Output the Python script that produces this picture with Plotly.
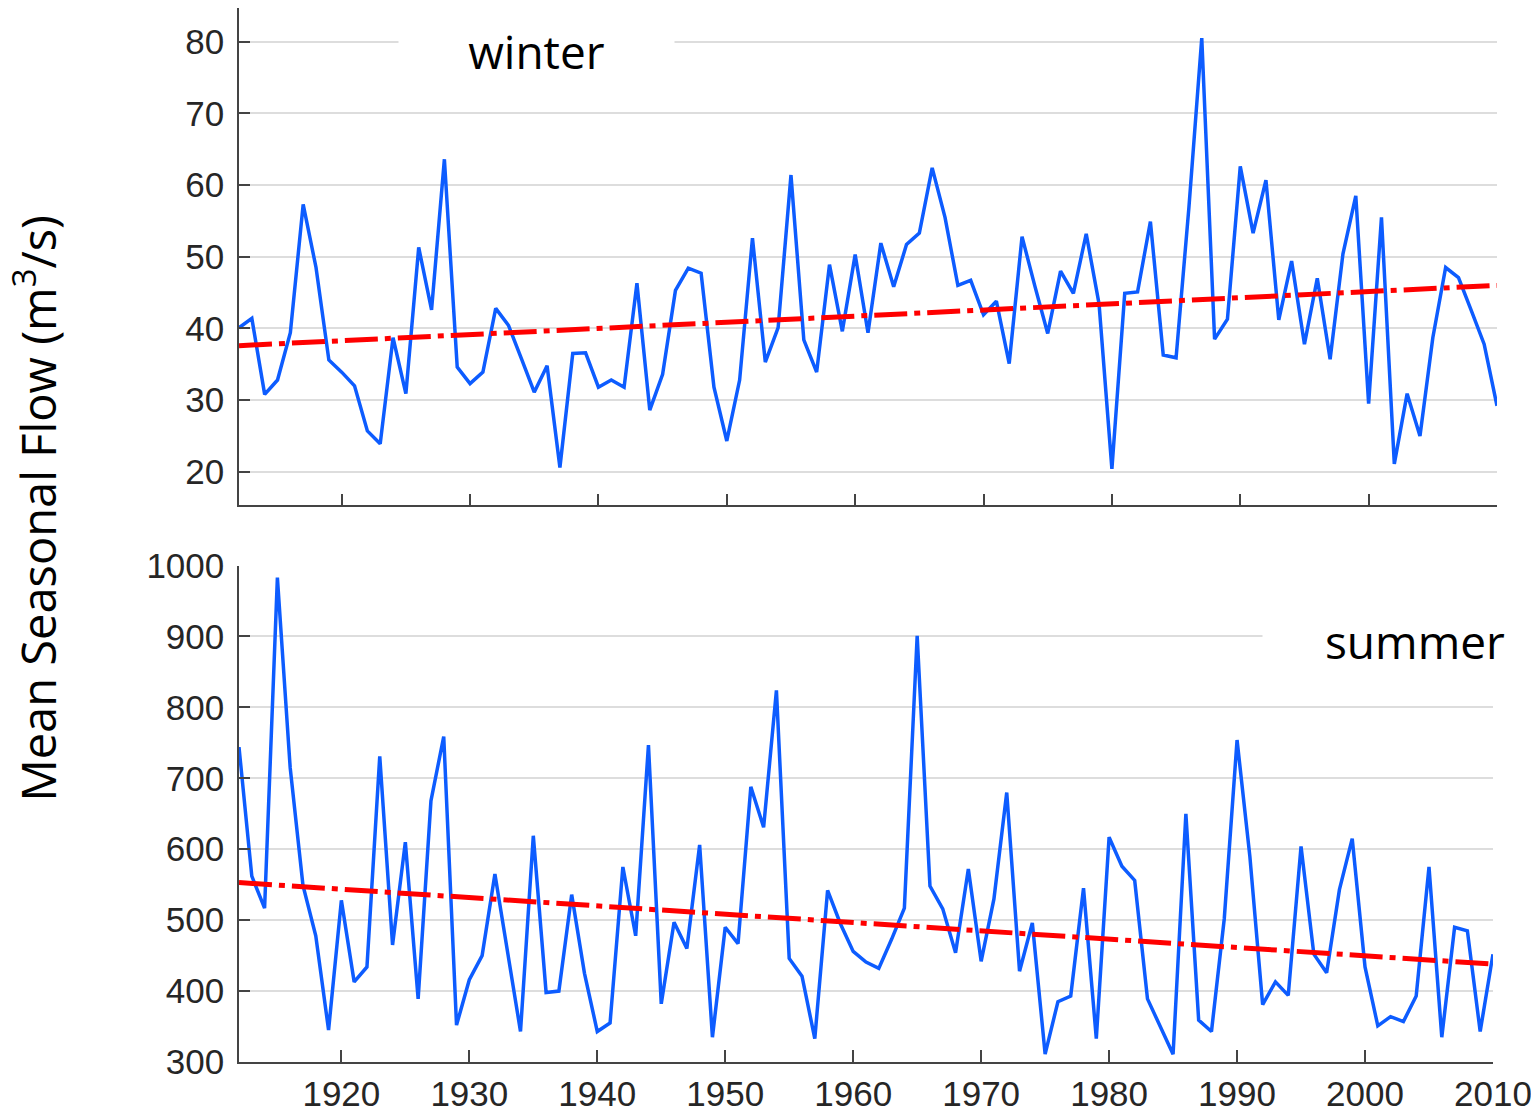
import plotly.graph_objects as go

# years shared by both series
years = list(range(1912, 2011))

# mean winter flow (m3/s)
winter_flow = [
    40.1, 41.4, 30.8, 32.8, 39.4, 57.3, 48.5, 35.6, 33.9, 32.0,
    25.7, 23.9, 38.7, 30.9, 51.3, 42.6, 63.6, 34.6, 32.3, 33.9,
    42.8, 40.4, 35.8, 31.1, 34.8, 20.6, 36.5, 36.6, 31.8, 32.8,
    31.8, 46.3, 28.6, 33.6, 45.3, 48.4, 47.7, 31.8, 24.3, 32.8,
    52.6, 35.3, 40.1, 61.4, 38.4, 33.9, 48.9, 39.6, 50.3, 39.4,
    51.9, 45.8, 51.7, 53.3, 62.4, 55.5, 46.0, 46.7, 41.9, 43.8,
    35.1, 52.8, 45.9, 39.3, 48.0, 44.9, 53.2, 43.4, 20.4, 44.9,
    45.1, 54.9, 36.3, 35.9, 56.9, 80.5, 38.5, 41.3, 62.6, 53.3,
    60.7, 41.2, 49.4, 37.8, 47.0, 35.7, 50.4, 58.5, 29.5, 55.5,
    21.1, 30.9, 25.0, 38.7, 48.5, 47.1, 42.5, 37.8, 29.2,
]

# mean summer flow (m3/s)
summer_flow = [
    744, 562, 517, 983, 715, 549, 478, 345, 528, 413,
    434, 731, 465, 610, 389, 668, 759, 352, 416, 450,
    565, 450, 343, 619, 398, 400, 536, 425, 343, 355,
    575, 478, 747, 382, 497, 460, 606, 335, 490, 467,
    688, 631, 824, 446, 421, 333, 542, 495, 456, 441,
    432, 473, 517, 901, 548, 516, 454, 572, 442, 530,
    680, 428, 496, 311, 385, 393, 545, 333, 617, 576,
    556, 389, 351, 311, 650, 359, 343, 502, 754, 590,
    381, 413, 394, 604, 452, 426, 543, 615, 434, 351,
    364, 357, 393, 575, 335, 490, 485, 343, 452,
]

# linear trend end points
trend_years = [1912, 2010]
winter_trend = [37.6, 46.0]
summer_trend = [553, 438]

tick_years = [1920, 1930, 1940, 1950, 1960, 1970, 1980, 1990, 2000, 2010]

blue = '#0d5cff'
red = '#ff0000'
axis_col = '#444444'
grid_col = '#dddddd'
tick_font = dict(family='Liberation Sans, Arial', size=35, color='#262626')
text_font = dict(family='Open Sans', size=46, color='black')

fig = go.Figure()

fig.add_trace(go.Scatter(x=years, y=winter_flow, mode='lines',
                         line=dict(color=blue, width=3.5), xaxis='x', yaxis='y'))
fig.add_trace(go.Scatter(x=trend_years, y=winter_trend, mode='lines',
                         line=dict(color=red, width=5, dash='33px,7px,6px,7px'),
                         xaxis='x', yaxis='y'))
fig.add_trace(go.Scatter(x=years, y=summer_flow, mode='lines',
                         line=dict(color=blue, width=3.5), xaxis='x2', yaxis='y2'))
fig.add_trace(go.Scatter(x=trend_years, y=summer_trend, mode='lines',
                         line=dict(color=red, width=5, dash='33px,7px,6px,7px'),
                         xaxis='x2', yaxis='y2'))

common_x = dict(range=[1912, 2010], tickvals=tick_years, ticks='inside', ticklen=12,
                tickwidth=1.5, tickcolor=axis_col, showline=True, linecolor=axis_col,
                linewidth=1.5, showgrid=False, zeroline=False, automargin=False)
common_y = dict(ticks='inside', ticklen=11, tickwidth=1.5, tickcolor=axis_col,
                showline=True, linecolor=axis_col, linewidth=1.5, showgrid=True,
                gridcolor=grid_col, gridwidth=1.5, zeroline=False, tickfont=tick_font,
                ticklabelstandoff=6, automargin=False)

# page body adds an 8px margin, so the figure is 16px smaller than the window
fig.update_layout(
    width=1531, height=1109,
    margin=dict(l=231, r=42, t=0, b=55, autoexpand=False),
    plot_bgcolor='white', paper_bgcolor='white',
    showlegend=False,
    xaxis=dict(common_x, domain=[0, 1], anchor='y', showticklabels=False),
    yaxis=dict(common_y, domain=[0.528, 1], range=[15.3, 84.7], dtick=10, tick0=0),
    xaxis2=dict(common_x, domain=[0, 0.9968], anchor='y2', tickfont=tick_font),
    yaxis2=dict(common_y, domain=[0, 0.471], range=[300, 1000], dtick=100, tick0=0,
                anchor='x2'),
)

# season labels on white boxes (they break the gridline behind them)
fig.add_annotation(x=1935.2, y=78.7, xref='x', yref='y', text='winter',
                   showarrow=False, font=text_font, bgcolor='white',
                   width=273, height=46)
fig.add_annotation(x=2003.9, y=894, xref='x2', yref='y2', text='summer',
                   showarrow=False, font=text_font, bgcolor='white',
                   width=302, height=46)

fig.add_annotation(x=-0.1614, y=0.526, xref='paper', yref='paper',
                   xanchor='center', yanchor='middle',
                   text='Mean Seasonal Flow (m<sup>3</sup>/s)', textangle=-90,
                   showarrow=False, font=dict(family='Open Sans', size=47, color='black'))

fig.write_html("out.html")
